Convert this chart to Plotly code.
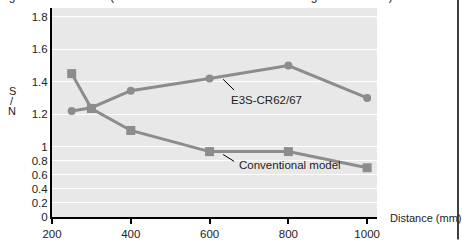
import plotly.graph_objects as go

# ---- data ----
distance = [250, 300, 400, 600, 800, 1000]
e3s_sn = [1.22, 1.24, 1.345, 1.42, 1.50, 1.30]
conv_sn = [1.45, 1.235, 1.10, 0.93, 0.93, 0.70]
y_ticks = [0, 0.2, 0.4, 0.6, 0.8, 1, 1.2, 1.4, 1.6, 1.8]
y_tick_labels = ["0", "0.2", "0.4", "0.6", "0.8", "1", "1.2", "1.4", "1.6", "1.8"]
x_ticks = [200, 400, 600, 800, 1000]
series_names = ["E3S-CR62/67", "Conventional model"]

# broken (two-scale) y axis: 0..1 compressed, 1..1.8 expanded
LOW = 72.0
HIGH = 166.25


def ty(v):
    return v * LOW if v <= 1 else LOW + (v - 1) * HIGH


GREY = "#8c8c8c"
FONT = "Liberation Sans, Arial, sans-serif"

fig = go.Figure()
fig.add_trace(go.Scatter(
    x=distance, y=[ty(v) for v in e3s_sn], mode="lines+markers", name=series_names[0],
    line=dict(color=GREY, width=3), marker=dict(symbol="circle", size=8, color=GREY),
))
fig.add_trace(go.Scatter(
    x=distance, y=[ty(v) for v in conv_sn], mode="lines+markers", name=series_names[1],
    line=dict(color=GREY, width=3), marker=dict(symbol="square", size=9, color=GREY),
))

fig.update_layout(
    width=462, height=248,
    margin=dict(l=52, r=85, t=8, b=26),
    paper_bgcolor="white", plot_bgcolor="#e8e8e8",
    showlegend=False,
    font=dict(family=FONT, size=11, color="#222"),
    xaxis=dict(range=[200, 1025], tickvals=x_ticks, ticks="outside", ticklen=5,
               tickwidth=2, tickcolor="black", showgrid=False, gridcolor="rgba(0,0,0,0)",
               zeroline=False, showline=True, linecolor="black", linewidth=2,
               tickfont=dict(size=11.5)),
    yaxis=dict(range=[0, 214], tickvals=[ty(v) for v in y_ticks], ticktext=y_tick_labels,
               showgrid=True, gridcolor="white", gridwidth=1, zeroline=False,
               showline=True, linecolor="black", linewidth=2, ticks="",
               tickfont=dict(size=11.5)),
)


def px_x(p):
    return 200 + (p - 52) / (315 / 800)


def px_y(p):
    return 222 - p


# series labels and leader lines
fig.add_annotation(x=px_x(229), y=px_y(102), xref="x", yref="y", text=series_names[0],
                   showarrow=False, xanchor="left", yanchor="middle", font=dict(size=11.5))
fig.add_annotation(x=px_x(237), y=px_y(169), xref="x", yref="y", text=series_names[1],
                   showarrow=False, xanchor="left", yanchor="middle", font=dict(size=11.5))
fig.add_shape(type="line", xref="x", yref="y", x0=px_x(223), y0=px_y(81), x1=px_x(234), y1=px_y(92),
              line=dict(color="black", width=1))
fig.add_shape(type="line", xref="x", yref="y", x0=px_x(223), y0=px_y(158), x1=px_x(234), y1=px_y(165),
              line=dict(color="black", width=1))

# axis titles
for ch, yp in (("S", 93), ("/", 103), ("N", 113)):
    fig.add_annotation(x=(12 - 52) / 325, y=(222 - yp) / 214, xref="paper", yref="paper", text=ch,
                       showarrow=False, xanchor="center", yanchor="middle", font=dict(size=11))
fig.add_annotation(x=(388 - 52) / 325, y=(222 - 223) / 214, xref="paper", yref="paper",
                   text="Distance (mm)", showarrow=False, xanchor="left", yanchor="middle",
                   font=dict(size=11))

# cut-off heading at the very top
fig.add_annotation(x=(0 - 52) / 325, y=(222 - 4.5) / 214, xref="paper", yref="paper",
                   text="ng Sensor Distance (S/N Ratio Measured at Rated Sensing Distance Set)",
                   showarrow=False, xanchor="left", yanchor="bottom", font=dict(size=12))

# right frame line
fig.add_shape(type="line", xref="paper", yref="paper", x0=(458 - 52) / 325, x1=(458 - 52) / 325,
              y0=(222 - 245) / 214, y1=(222 + 8) / 214, line=dict(color="black", width=1.5))

fig.write_html("out.html")
